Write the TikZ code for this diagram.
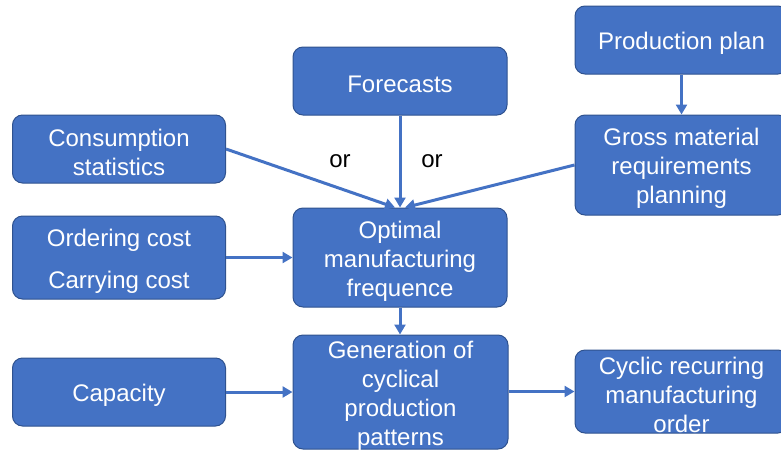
\documentclass[tikz,border=0pt]{standalone}
\usepackage{fontspec}
\setmainfont{Liberation Sans}
\usetikzlibrary{arrows.meta}
\definecolor{boxfill}{HTML}{4472C4}
\definecolor{boxline}{HTML}{2F528F}
\definecolor{arrowc}{HTML}{4472C4}
\begin{document}
\begin{tikzpicture}[x=1pt,y=-1pt,
  blk/.style={draw=boxline,line width=1pt,fill=boxfill,rounded corners=10pt,inner sep=0pt},
  txt/.style={text=white,align=center,inner sep=0pt,yshift=-3.5pt,font=\fontsize{24}{29}\selectfont},
  conn/.style={draw=arrowc,line width=3pt,-{Triangle[length=10pt,width=11pt]}},
  lbl/.style={text=black,font=\fontsize{24}{29}\selectfont,inner sep=0pt}]
\useasboundingbox (0,0) rectangle (781,450);
\clip (0,0) rectangle (781,450);
\node[blk,minimum width=213pt,minimum height=68pt,label={[txt]center:Consumption\\statistics}] (cons) at (119,149) {};
\node[blk,minimum width=213pt,minimum height=83pt,label={[txt]center:Ordering cost\\[13pt]Carrying cost}] (cost) at (119,257.5) {};
\node[blk,minimum width=213pt,minimum height=68pt,label={[txt]center:Capacity}] (cap) at (119,392) {};
\node[blk,minimum width=214pt,minimum height=68pt,label={[txt]center:Forecasts}] (fore) at (400,81) {};
\node[blk,minimum width=214pt,minimum height=99pt,label={[txt]center:Optimal\\manufacturing\\frequence}] (opt) at (400,257.5) {};
\node[blk,minimum width=215pt,minimum height=114pt,label={[txt]center:Generation of\\cyclical\\production\\patterns}] (gen) at (400.5,392) {};
\node[blk,minimum width=213pt,minimum height=68pt,label={[txt]center:Production plan}] (plan) at (681.5,40) {};
\node[blk,minimum width=213pt,minimum height=100pt,label={[txt]center:Gross material\\requirements\\planning}] (gross) at (681.5,165) {};
\node[blk,minimum width=213pt,minimum height=83pt,label={[txt]center:Cyclic recurring\\manufacturing\\order}] (cyc) at (681.5,391.5) {};
\node[lbl] (or1) at (340,161) {or};
\node[lbl] (or2) at (432,161) {or};
\draw[conn] (cons.east) -- ([xshift=-5pt]opt.north);
\draw[conn] (fore.south) -- (opt.north);
\draw[conn] (gross.west) -- ([xshift=5pt]opt.north);
\draw[conn] (cost.east) -- (cost.east -| opt.west);
\draw[conn] (opt.south) -- (opt.south |- gen.north);
\draw[conn] (cap.east) -- (cap.east -| gen.west);
\draw[conn] (gen.east |- cyc.west) -- (cyc.west);
\draw[conn] (plan.south) -- (gross.north);
\end{tikzpicture}
\end{document}
